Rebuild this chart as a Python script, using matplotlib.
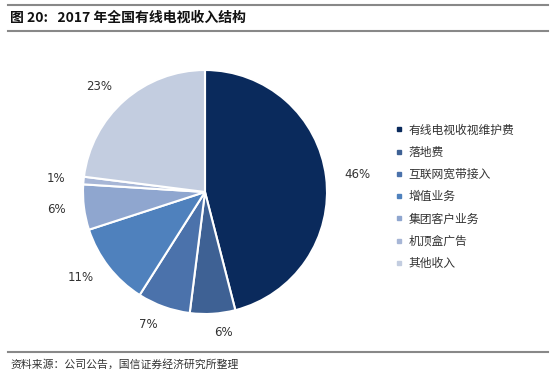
import matplotlib
matplotlib.use("Agg")
import matplotlib.pyplot as plt
from matplotlib.lines import Line2D

plt.rcParams['font.family'] = ['Noto Sans CJK SC', 'DejaVu Sans']

categories = ['有线电视收视维护费', '落地费', '互联网宽带接入', '增值业务', '集团客户业务', '机顶盒广告', '其他收入']
values = [46, 6, 7, 11, 6, 1, 23]
colors = ['#0A2A5C', '#3E6194', '#4B72AB', '#4F81BD', '#8FA6CF', '#A7B6D6', '#C3CDE0']

W, H = 554, 373
fig = plt.figure(figsize=(W/100, H/100), dpi=100)

# pie axes: center (205,192), radius ~122
r = 122
cx, cy = 205, 192
ax = fig.add_axes([(cx - r)/W, 1 - (cy + r)/H, 2*r/W, 2*r/H])
wedges, texts = ax.pie(values, colors=colors, startangle=90, counterclock=False,
                       labels=[f'{v}%' for v in values], labeldistance=1.15,
                       wedgeprops=dict(edgecolor='white', linewidth=1.5),
                       textprops=dict(fontsize=8.5, color='#333333', family='DejaVu Sans'))
ax.set_aspect('equal')
ax.set_xlim(-1, 1); ax.set_ylim(-1, 1)
ax.axis('off')

# legend
handles = [Line2D([], [], marker='s', linestyle='none', markersize=3.5,
                  markerfacecolor=c, markeredgecolor=c) for c in colors]
fig.legend(handles, categories, loc='upper left', bbox_to_anchor=(385/W, 1 - 113/H),
           frameon=False, fontsize=8.5, labelspacing=0.78, handletextpad=0.5,
           handlelength=0.6, labelcolor='#333333')

# header/footer lines
for y, lw in [(5, 1.5), (31, 1.5), (352, 1.5)]:
    fig.add_artist(Line2D([8/W, 548/W], [1 - y/H, 1 - y/H], color='#888888', linewidth=lw))

fig.text(10/W, 1 - 18/H, '图 20:   2017 年全国有线电视收入结构', fontsize=10, fontweight='bold',
         va='center', ha='left', color='#111111')
fig.text(10/W, 1 - 364/H, '资料来源：公司公告，国信证券经济研究所整理', fontsize=7.8,
         va='center', ha='left', color='#333333')

fig.savefig('out.png', dpi=100)
